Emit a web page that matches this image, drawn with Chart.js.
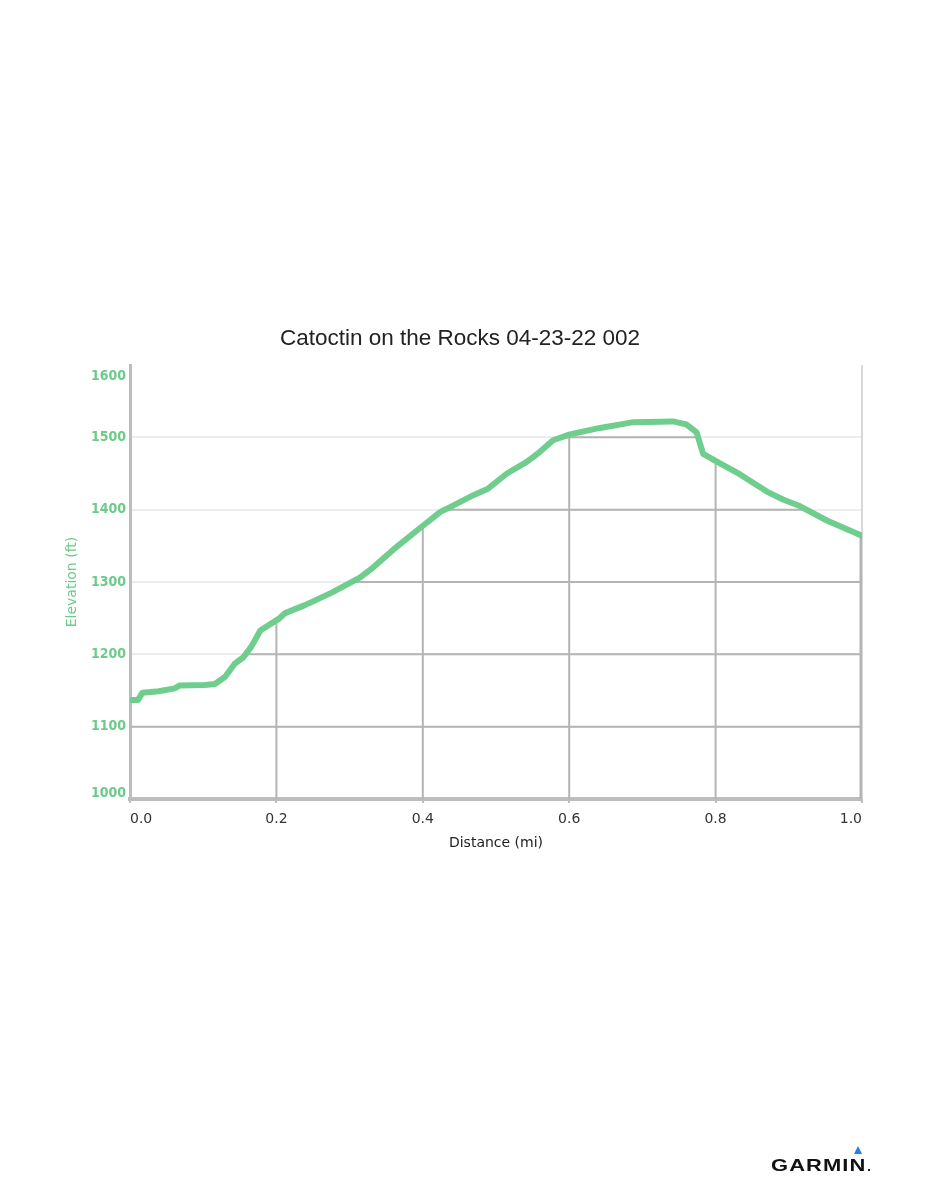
<!DOCTYPE html>
<html>
<head>
<meta charset="utf-8">
<script src="https://cdn.jsdelivr.net/npm/chart.js@4/dist/chart.umd.min.js"></script>
<style>
  html, body { margin: 0; padding: 0; background: #fff; }
  #wrap { position: relative; width: 926px; height: 1200px; }
  #c { position: absolute; left: 0; top: 0; }
  #logo { position: absolute; left: 771px; top: 1156px; font-family: "Liberation Sans", Arial, sans-serif; font-weight: bold; font-size: 16.5px; letter-spacing: 0.8px; color: #111; transform: scaleX(1.33); transform-origin: 0 0; white-space: nowrap; }
  #tri { position: absolute; left: 854px; top: 1146px; width: 0; height: 0; border-left: 4px solid transparent; border-right: 4px solid transparent; border-bottom: 8px solid #2a7de1; }
  #dot { position: absolute; left: 868px; top: 1169px; width: 2px; height: 2px; background: #222; }
</style>
</head>
<body>
<div id="wrap">
  <canvas id="c" width="926" height="1200"></canvas>
  <div id="tri"></div>
  <div id="logo">GARMIN</div>
  <div id="dot"></div>
</div>
<script>
const chartTitle = "Catoctin on the Rocks 04-23-22 002";
const xTitle = "Distance (mi)";
const yTitle = "Elevation (ft)";

const distances = [0.000, 0.011, 0.017, 0.039, 0.061, 0.068, 0.102, 0.116, 0.130, 0.143,
  0.155, 0.166, 0.178, 0.203, 0.212, 0.239, 0.275, 0.314, 0.332, 0.360,
  0.398, 0.424, 0.442, 0.469, 0.489, 0.515, 0.542, 0.560, 0.578, 0.601,
  0.642, 0.688, 0.742, 0.760, 0.774, 0.783, 0.806, 0.833, 0.870, 0.892,
  0.915, 0.952, 1.000];
const elevations = [1137, 1137, 1147, 1149, 1153, 1157, 1157.5, 1159, 1169, 1187,
  1196, 1211, 1233, 1249, 1257, 1268, 1285, 1306, 1320, 1345,
  1376, 1397, 1406, 1420, 1429, 1450, 1466, 1480, 1496, 1504,
  1513, 1521, 1522, 1518, 1507, 1477, 1464, 1449, 1425, 1414,
  1405, 1385, 1364];

const xMin = 0, xMax = 1.0, xStep = 0.2;
const yMin = 1000, yMax = 1600, yStep = 100;

const green = '#6fcd8d';
const greenText = '#6ccb89';

const points = distances.map((d, i) => ({ x: d, y: elevations[i] }));

// Draw darker grid lines in the region below the elevation line
const underGrid = {
  id: 'underGrid',
  beforeDatasetsDraw(chart) {
    const { ctx, chartArea, scales } = chart;
    const xs = scales.x, ys = scales.y;
    ctx.save();
    ctx.strokeStyle = '#d9d9d9';
    ctx.lineWidth = 2;
    ctx.beginPath();
    ctx.moveTo(xs.getPixelForValue(xMax), chartArea.top);
    ctx.lineTo(xs.getPixelForValue(xMax), chartArea.bottom);
    ctx.stroke();
    ctx.restore();

    const meta = chart.getDatasetMeta(0);
    const pts = meta.data;
    if (!pts.length) return;
    ctx.save();
    ctx.beginPath();
    ctx.moveTo(pts[0].x, chartArea.bottom);
    pts.forEach(p => ctx.lineTo(p.x, p.y));
    ctx.lineTo(pts[pts.length - 1].x, chartArea.bottom);
    ctx.closePath();
    ctx.clip();
    ctx.strokeStyle = '#b4b4b4';
    ctx.lineWidth = 2;
    ys.ticks.forEach(t => {
      if (t.value <= yMin || t.value >= yMax) return;
      const y = ys.getPixelForValue(t.value);
      ctx.beginPath();
      ctx.moveTo(chartArea.left, y);
      ctx.lineTo(chartArea.right, y);
      ctx.stroke();
    });
    xs.ticks.forEach(t => {
      if (t.value <= xMin) return;
      const x = xs.getPixelForValue(t.value);
      ctx.lineWidth = t.value >= xMax ? 5 : 2;
      ctx.beginPath();
      ctx.moveTo(x, chartArea.top);
      ctx.lineTo(x, chartArea.bottom);
      ctx.stroke();
    });
    ctx.restore();
  }
};

new Chart(document.getElementById('c'), {
  type: 'line',
  data: {
    datasets: [{
      data: points,
      borderColor: green,
      borderWidth: 6,
      pointRadius: 0,
      fill: false,
      tension: 0,
      borderJoinStyle: 'round',
      borderCapStyle: 'round'
    }]
  },
  options: {
    responsive: false,
    animation: false,
    layout: { padding: { top: 325, left: 58, right: 64, bottom: 344 } },
    plugins: {
      legend: { display: false },
      tooltip: { enabled: false },
      title: {
        display: true,
        text: chartTitle,
        color: '#222',
        font: { family: '"Liberation Sans", Arial, sans-serif', size: 22.5, weight: 'normal' },
        padding: { top: 0, bottom: 13 }
      }
    },
    scales: {
      x: {
        type: 'linear',
        min: xMin, max: xMax,
        afterFit: s => { s.height = 57; },
        ticks: {
          stepSize: xStep,
          align: 'inner',
          color: '#333',
          padding: 8,
          font: { family: '"DejaVu Sans", Verdana, sans-serif', size: 14 },
          callback: v => Number(v).toFixed(1)
        },
        grid: { display: true, drawOnChartArea: false, drawTicks: true, tickLength: 4, color: '#bdbdbd', lineWidth: 2 },
        border: { display: true, color: '#bdbdbd', width: 4 },
        title: {
          display: true, text: xTitle, color: '#222',
          font: { family: '"DejaVu Sans", Verdana, sans-serif', size: 14 },
          padding: { top: 4, bottom: 4 }
        }
      },
      y: {
        min: yMin, max: yMax,
        afterFit: s => { s.width = 72; },
        ticks: {
          stepSize: yStep,
          color: greenText,
          padding: 4,
          font: c => {
            const v = c.tick ? c.tick.value : null;
            const lh = v === yMax ? '22px' : (v === yMin ? '12px' : 1.2);
            return { family: '"DejaVu Sans Condensed", "DejaVu Sans", Verdana, sans-serif', size: 14, weight: 'bold', lineHeight: lh };
          },
          callback: v => v === yMax ? ['', String(v)] : (v === yMin ? [String(v), ''] : String(v))
        },
        grid: {
          drawTicks: false,
          lineWidth: 2,
          color: c => (c.tick && (c.tick.value === yMax || c.tick.value === yMin)) ? 'rgba(0,0,0,0)' : '#ededed'
        },
        border: { display: true, color: '#bdbdbd', width: 3 },
        title: {
          display: true, text: yTitle, color: greenText,
          font: { family: '"DejaVu Sans", Verdana, sans-serif', size: 14 },
          padding: { top: 6, bottom: 4 }
        }
      }
    }
  },
  plugins: [underGrid]
});
</script>
</body>
</html>
